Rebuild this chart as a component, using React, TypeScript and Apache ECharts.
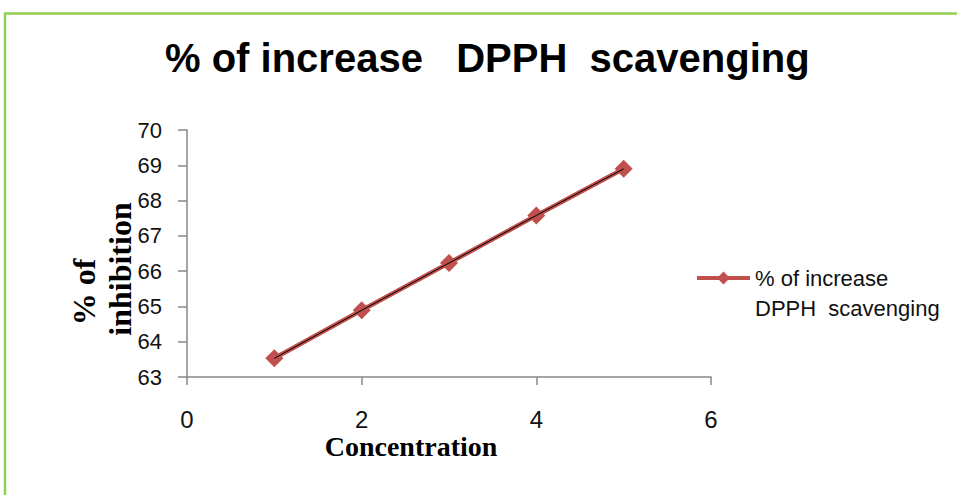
import React, { useEffect, useRef } from "react";
import * as echarts from "echarts";

const titleText = "% of increase   DPPH  scavenging";
const seriesName = "% of increase\nDPPH  scavenging";
const concentrations = [1, 2, 3, 4, 5];
const inhibition = [63.53, 64.89, 66.23, 67.58, 68.9];
const xTicks = [0, 2, 4, 6];
const yTicks = [63, 64, 65, 66, 67, 68, 69, 70];
const xAxisTitle = "Concentration";
const yAxisTitleLines = ["% of", "inhibition"];

export default function App() {
  const ref = useRef<HTMLDivElement>(null);
  useEffect(() => {
    if (!ref.current) return;
    const chart = echarts.init(ref.current, undefined, { renderer: "svg" });
    const pts = concentrations.map((c, i) => [c, inhibition[i]]);
    chart.setOption({
      animation: false,
      backgroundColor: "#ffffff",
      title: {
        text: titleText,
        left: 165,
        top: 38,
        padding: 0,
        textStyle: {
          fontSize: 40,
          fontWeight: "bold",
          color: "#000",
          fontFamily: "'Liberation Sans Narrow', 'Liberation Sans', sans-serif",
        },
      },
      legend: {
        data: [seriesName],
        left: 695,
        top: 233,
        padding: 0,
        itemWidth: 53,
        itemHeight: 16,
        itemGap: 0,
        formatter: (name: string) => "\n" + name,
        lineStyle: { width: 4, color: "#C0504D" },
        itemStyle: { color: "#C0504D" },
        textStyle: {
          fontSize: 22,
          lineHeight: 30,
          color: "#111",
          fontFamily: "'Liberation Sans', sans-serif",
        },
      },
      grid: { left: 187, right: 246, top: 130, bottom: 118, containLabel: false },
      xAxis: {
        type: "value",
        min: xTicks[0],
        max: xTicks[xTicks.length - 1],
        interval: xTicks[1] - xTicks[0],
        splitLine: { show: false },
        axisLine: { lineStyle: { color: "#888", width: 1.5 } },
        axisTick: { show: true, length: 8, inside: false, lineStyle: { color: "#888", width: 1.5 } },
        axisLabel: {
          margin: 30,
          fontSize: 24,
          color: "#111",
          fontFamily: "'Liberation Sans', sans-serif",
        },
      },
      yAxis: {
        type: "value",
        min: yTicks[0],
        max: yTicks[yTicks.length - 1],
        interval: 1,
        splitLine: { show: false },
        axisLine: { show: true, lineStyle: { color: "#888", width: 1.5 } },
        axisTick: { show: true, length: 9, lineStyle: { color: "#888", width: 1.5 } },
        axisLabel: {
          margin: 25,
          fontSize: 22,
          color: "#111",
          fontFamily: "'Liberation Sans', sans-serif",
        },
      },
      series: [
        {
          name: seriesName,
          type: "line",
          data: pts,
          symbol: "diamond",
          symbolSize: 18,
          lineStyle: { color: "#C0504D", width: 4.5 },
          itemStyle: { color: "#C0504D" },
          z: 2,
        },
        {
          name: "trend",
          type: "line",
          data: pts,
          symbol: "none",
          silent: true,
          lineStyle: { color: "#000", width: 1 },
          z: 3,
        },
      ],
      graphic: [
        {
          type: "rect",
          shape: { x: 5, y: 13.5, width: 1200, height: 800 },
          style: { fill: "none", stroke: "#92D050", lineWidth: 2.5 },
          silent: true,
          z: 10,
        },
        {
          type: "text",
          x: 84,
          y: 292,
          rotation: Math.PI / 2,
          style: {
            text: yAxisTitleLines[0],
            fontSize: 32,
            fontWeight: "bold",
            fontFamily: "'Liberation Serif', 'Times New Roman', serif",
            fill: "#000",
            align: "center",
            verticalAlign: "middle",
          },
        },
        {
          type: "text",
          x: 120,
          y: 269,
          rotation: Math.PI / 2,
          style: {
            text: yAxisTitleLines[1],
            fontSize: 32,
            fontWeight: "bold",
            fontFamily: "'Liberation Serif', 'Times New Roman', serif",
            fill: "#000",
            align: "center",
            verticalAlign: "middle",
          },
        },
        {
          type: "text",
          x: 411,
          y: 446,
          style: {
            text: xAxisTitle,
            fontSize: 28,
            fontWeight: "bold",
            fontFamily: "'Liberation Serif', 'Times New Roman', serif",
            fill: "#000",
            align: "center",
            verticalAlign: "middle",
          },
        },
      ],
    });
    return () => chart.dispose();
  }, []);
  return (
    <div
      ref={ref}
      style={{ position: "absolute", left: 0, top: 0, width: 957, height: 495 }}
    />
  );
}
